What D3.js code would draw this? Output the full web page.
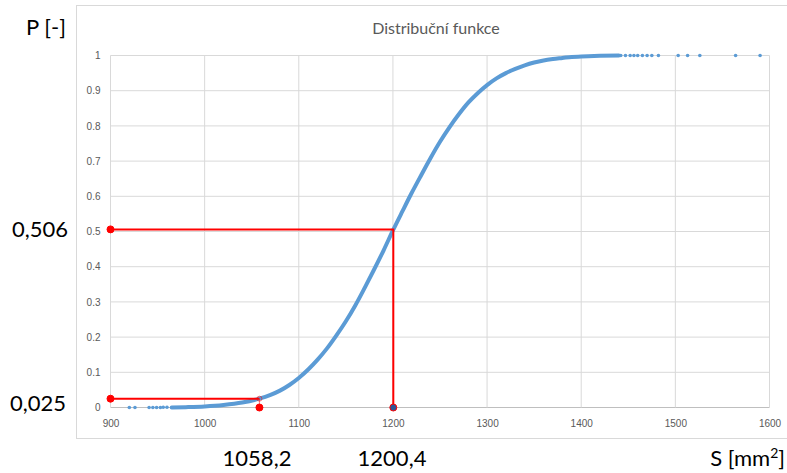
<!DOCTYPE html>
<html>
<head>
<meta charset="utf-8">
<script src="https://cdn.jsdelivr.net/npm/d3@7"></script>
<style>
  body { margin: 0; background: #fff; }
  svg { display: block; font-family: Lato, "Open Sans", sans-serif; }
  .tick text { fill: #595959; font-size: 10px; }
</style>
</head>
<body>
<svg width="787" height="473"></svg>
<script>
var curveS = [965, 980, 1000, 1020, 1040, 1058, 1070, 1080, 1090, 1100, 1110, 1120, 1130, 1140, 1150,
  1160, 1170, 1180, 1190, 1200, 1210, 1220, 1230, 1240, 1250, 1260, 1270, 1280, 1290, 1300,
  1310, 1320, 1330, 1340, 1350, 1360, 1370, 1380, 1390, 1400, 1420, 1440];
var curveP = [0.000, 0.001, 0.003, 0.007, 0.014, 0.025, 0.036, 0.048, 0.064, 0.084, 0.108, 0.136, 0.168, 0.205, 0.245,
  0.290, 0.340, 0.392, 0.446, 0.503, 0.557, 0.610, 0.660, 0.709, 0.755, 0.796, 0.833, 0.866, 0.893, 0.916,
  0.935, 0.950, 0.962, 0.972, 0.980, 0.986, 0.990, 0.993, 0.996, 0.997, 0.999, 1.000];

// isolated dots in the tails
var lowTailS = [920, 926, 941, 945, 949, 953, 956, 960];
var lowTailP = [0, 0, 0, 0, 0, 0, 0.0005, 0.0005];
var highTailS = [1442, 1447, 1452, 1456, 1460, 1465, 1470, 1475, 1482, 1503, 1513, 1526, 1564, 1590];
var highTailP = [1, 1, 1, 1, 1, 1, 1, 1, 1, 1, 1, 1, 1, 1];

var xTicks = [900, 1000, 1100, 1200, 1300, 1400, 1500, 1600];
var yTicks = [0, 0.1, 0.2, 0.3, 0.4, 0.5, 0.6, 0.7, 0.8, 0.9, 1];

var sMean = 1200.4, pMean = 0.506;
var sLow = 1058.2, pLow = 0.025;

var title = "Distribuční funkce";

var svg = d3.select("svg");

var x = d3.scaleLinear().domain([900, 1600]).range([110.5, 769.5]);
var y = d3.scaleLinear().domain([0, 1]).range([407.5, 55.5]);

// chart frame
svg.append("rect")
    .attr("x", 76.5).attr("y", 5.5)
    .attr("width", 740).attr("height", 433)
    .attr("fill", "none")
    .attr("stroke", "#d9d9d9");

// grid
svg.append("g").selectAll("line")
    .data(yTicks)
  .enter().append("line")
    .attr("x1", x(900)).attr("x2", x(1600))
    .attr("y1", function(d) { return y(d); })
    .attr("y2", function(d) { return y(d); })
    .attr("stroke", function(d) { return d === 0 ? "#bfbfbf" : "#d9d9d9"; });

svg.append("g").selectAll("line")
    .data(xTicks)
  .enter().append("line")
    .attr("x1", function(d) { return x(d); })
    .attr("x2", function(d) { return x(d); })
    .attr("y1", y(1)).attr("y2", y(0))
    .attr("stroke", "#d9d9d9");

// axes (labels only)
svg.append("g")
    .attr("transform", "translate(0," + (y(0) + 9) + ")")
    .call(d3.axisBottom(x).tickValues(xTicks).tickSize(0).tickFormat(d3.format("d")))
    .call(function(g) { g.select(".domain").remove(); });

svg.append("g")
    .attr("transform", "translate(" + (x(900) - 7) + ",0)")
    .call(d3.axisLeft(y).tickValues(yTicks).tickSize(0).tickFormat(function(d) { return d; }))
    .call(function(g) { g.select(".domain").remove(); });

// title
svg.append("text")
    .attr("x", 436).attr("y", 34)
    .attr("text-anchor", "middle")
    .attr("fill", "#595959")
    .style("font-size", "16px")
    .text(title);

// CDF
var pts = curveS.map(function(s, i) { return [s, curveP[i]]; });
svg.append("path")
    .datum(pts)
    .attr("fill", "none")
    .attr("stroke", "#5b9bd5")
    .attr("stroke-width", 4)
    .attr("stroke-linecap", "round")
    .attr("d", d3.line().x(function(d) { return x(d[0]); }).y(function(d) { return y(d[1]); }).curve(d3.curveMonotoneX));

var tails = lowTailS.map(function(s, i) { return [s, lowTailP[i]]; })
    .concat(highTailS.map(function(s, i) { return [s, highTailP[i]]; }));
svg.append("g").selectAll("circle")
    .data(tails)
  .enter().append("circle")
    .attr("cx", function(d) { return x(d[0]); })
    .attr("cy", function(d) { return y(d[1]); })
    .attr("r", 1.8)
    .attr("fill", "#5b9bd5");

// red guide lines
var red = "#ff0000";
svg.append("path")
    .attr("fill", "none").attr("stroke", red).attr("stroke-width", 2)
    .attr("d", "M" + x(900) + "," + y(pMean) + "H" + x(sMean) + "V" + y(0));
svg.append("path")
    .attr("fill", "none").attr("stroke", red).attr("stroke-width", 2)
    .attr("d", "M" + x(900) + "," + y(pLow) + "H" + x(sLow));
svg.append("line")
    .attr("x1", x(sLow)).attr("x2", x(sLow))
    .attr("y1", y(pLow)).attr("y2", y(0))
    .attr("stroke", red).attr("stroke-opacity", 0.5).attr("stroke-width", 1);
svg.append("circle")
    .attr("cx", x(sLow)).attr("cy", y(pLow)).attr("r", 2.5)
    .attr("fill", "none").attr("stroke", red).attr("stroke-opacity", 0.5);

var markers = [
  {s: 900, p: pMean, fill: red},
  {s: 900, p: pLow, fill: red},
  {s: sLow, p: 0, fill: red},
  {s: sMean, p: 0, fill: "#2f5597"}
];
svg.append("g").selectAll("circle")
    .data(markers)
  .enter().append("circle")
    .attr("cx", function(d) { return x(d.s); })
    .attr("cy", function(d) { return y(d.p); })
    .attr("r", 3.5)
    .attr("fill", function(d) { return d.fill; })
    .attr("stroke", red)
    .attr("stroke-width", 1);

// big annotation labels
var big = svg.append("g").style("font-size", "22px").attr("fill", "#000");
big.append("text").attr("x", 26).attr("y", 35).text("P [-]");
big.append("text").attr("x", 12).attr("y", 237).text("0,506");
big.append("text").attr("x", 10).attr("y", 411).text("0,025");
big.append("text").attr("x", 257).attr("y", 466).attr("text-anchor", "middle").text("1058,2");
big.append("text").attr("x", 392).attr("y", 466).attr("text-anchor", "middle").text("1200,4");
var sl = big.append("text").attr("x", 785).attr("y", 466).attr("text-anchor", "end");
sl.append("tspan").text("S [mm");
sl.append("tspan").attr("dy", -8).style("font-size", "14px").text("2");
sl.append("tspan").attr("dy", 8).text("]");
</script>
</body>
</html>
